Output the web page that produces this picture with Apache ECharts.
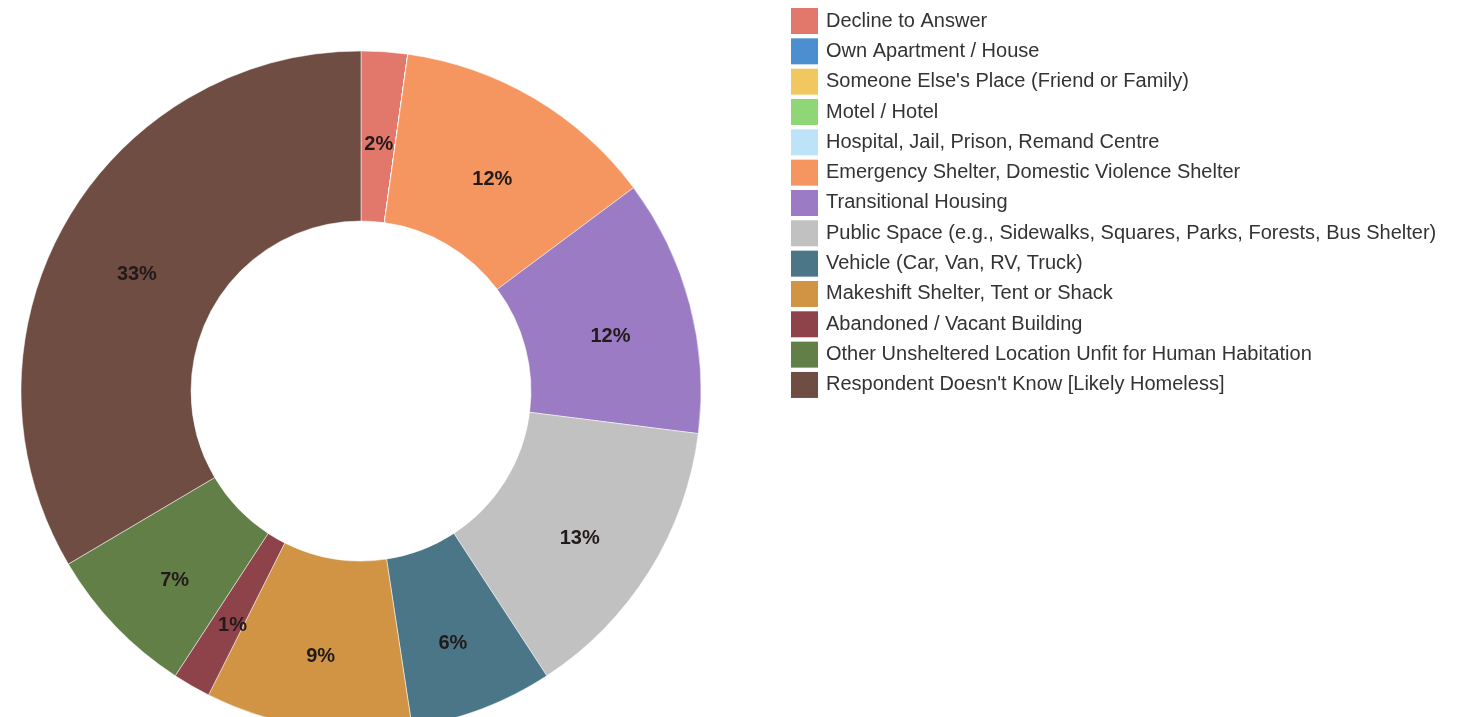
<!DOCTYPE html>
<html lang="en">
<head>
    <meta charset="UTF-8">
    <title>Location</title>
    <script src="https://cdn.jsdelivr.net/npm/echarts@6/dist/echarts.min.js"></script>
    <style>
        html, body { margin: 0; padding: 0; background: #fff; }
        #main { width: 1463px; height: 717px; }
    </style>
</head>
<body>
<div id="main"></div>
<script type="text/javascript">
    // categories, in legend order (clockwise from 12 o'clock)
    let categories = [
        'Decline to Answer',
        'Own Apartment / House',
        "Someone Else's Place (Friend or Family)",
        'Motel / Hotel',
        'Hospital, Jail, Prison, Remand Centre',
        'Emergency Shelter, Domestic Violence Shelter',
        'Transitional Housing',
        'Public Space (e.g., Sidewalks, Squares, Parks, Forests, Bus Shelter)',
        'Vehicle (Car, Van, RV, Truck)',
        'Makeshift Shelter, Tent or Shack',
        'Abandoned / Vacant Building',
        'Other Unsheltered Location Unfit for Human Habitation',
        "Respondent Doesn't Know [Likely Homeless]"
    ]
    // share of respondents, percent
    let values = [2.2, 0, 0, 0, 0, 12.6, 12.2, 13.8, 6.8, 9.8, 1.8, 7.3, 33.5]
    let colors = [
        '#e2776b', '#4b8fd1', '#f1c75f', '#8fd776', '#bde3f9', '#f5955f', '#9b7cc4',
        '#c1c1c1', '#4a7688', '#d19444', '#8e434b', '#637f48', '#6f4d42'
    ]

    let myChart = echarts.init(document.getElementById('main'))

    let pieData = categories.map((name, i) => {
        return {name: name, value: values[i], itemStyle: {color: colors[i]}}
    })

    let option = {
        animation: false,
        legend: {
            orient: 'vertical',
            left: 791,
            top: 8,
            padding: 0,
            icon: 'rect',
            itemWidth: 27,
            itemHeight: 26,
            itemGap: 4.33,
            itemStyle: {borderWidth: 0},
            selectedMode: false,
            textStyle: {
                fontFamily: 'Liberation Sans, Arial, sans-serif',
                fontSize: 20,
                color: '#333',
                padding: [0, 0, 0, 3]
            },
            data: categories
        },
        series: [
            {
                type: 'pie',
                center: [361, 391],
                radius: [170, 340],
                startAngle: 90,
                clockwise: true,
                avoidLabelOverlap: false,
                itemStyle: {
                    borderColor: 'rgba(255,255,255,0.5)',
                    borderWidth: 1
                },
                label: {
                    show: true,
                    position: 'inside',
                    formatter: function (p) {
                        if (!p.value) return ''
                        // empty first line nudges the number a little below the slice middle
                        return '{gap| }\n{v|' + Math.floor(p.percent) + '%}'
                    },
                    rich: {
                        gap: {fontSize: 10, lineHeight: 22},
                        v: {
                            fontFamily: 'Liberation Sans, Arial, sans-serif',
                            fontSize: 20,
                            fontWeight: 'bold',
                            color: '#221a1a',
                            lineHeight: 24
                        }
                    }
                },
                labelLine: {show: false},
                emphasis: {disabled: true},
                data: pieData
            }
        ]
    }
    myChart.setOption(option)
</script>
</body>
</html>
